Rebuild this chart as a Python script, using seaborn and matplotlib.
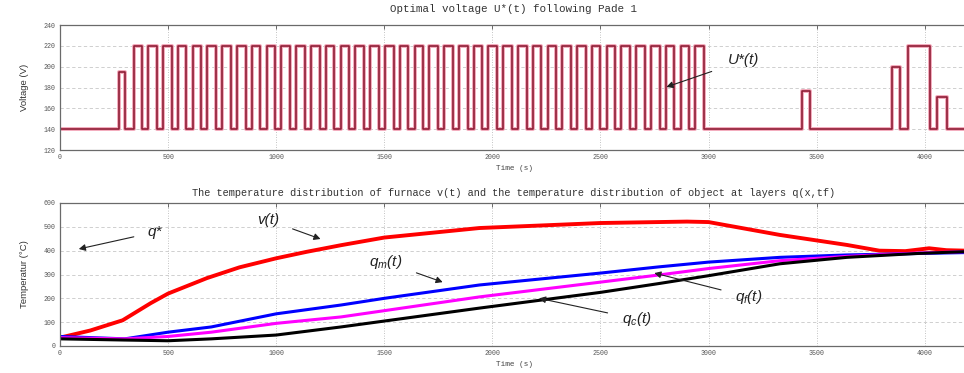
import numpy as np
import pandas as pd
import matplotlib
matplotlib.use("Agg")
import matplotlib.pyplot as plt
import seaborn as sns

# ---------------- data ----------------
# Top panel: optimal voltage U*(t)
base_level = 140
pulse_on = [271, 340, 408, 477, 545, 614, 682, 750, 819, 887, 956, 1024, 1092, 1161,
            1229, 1298, 1366, 1434, 1503, 1571, 1640, 1708, 1776, 1845, 1913, 1982,
            2050, 2118, 2187, 2255, 2324, 2392, 2460, 2529, 2597, 2666, 2734, 2802,
            2871, 2939, 3434, 3848, 3922, 4055]
pulse_off = [299, 380, 448, 517, 585, 654, 722, 790, 859, 927, 996, 1064, 1132, 1201,
             1269, 1338, 1406, 1474, 1543, 1611, 1680, 1748, 1816, 1885, 1953, 2022,
             2090, 2158, 2227, 2295, 2364, 2432, 2500, 2569, 2637, 2706, 2774, 2842,
             2911, 2979, 3467, 3885, 4023, 4101]
pulse_level = [195] + [220] * 39 + [177, 200, 220, 171]
t_end = 4200

# Bottom panel: temperatures
t_v = [0, 140, 290, 420, 500, 680, 830, 1000, 1140, 1300, 1500, 1940, 2500, 2900,
       3000, 3330, 3640, 3790, 3910, 4020, 4100, 4190]
v_t = [35, 65, 108, 180, 220, 285, 330, 368, 395, 423, 455, 495, 516, 522,
       520, 466, 424, 400, 398, 410, 402, 400]

t_m = [0, 150, 300, 500, 700, 1000, 1300, 1500, 1940, 2500, 2770, 3000, 3330, 3640, 3960, 4190]
qm_t = [40, 35, 30, 58, 80, 135, 172, 200, 256, 306, 332, 352, 372, 382, 388, 392]

t_f = [0, 300, 500, 700, 1000, 1300, 1940, 2500, 2770, 3000, 3330, 3640, 3960, 4190]
qf_t = [35, 30, 40, 58, 95, 122, 206, 268, 298, 325, 358, 376, 390, 396]

t_c = [0, 300, 500, 700, 1000, 1300, 1940, 2500, 2770, 3000, 3330, 3640, 3960, 4190]
qc_t = [30, 25, 22, 30, 46, 80, 159, 225, 262, 295, 345, 372, 388, 396]

x_ticks = [0, 500, 1000, 1500, 2000, 2500, 3000, 3500, 4000]
u_ticks = [120, 140, 160, 180, 200, 220, 240]
T_ticks = [0, 100, 200, 300, 400, 500, 600]

# ---------------- build step signal from edges ----------------
step_t = [0]
step_u = [base_level]
for on, off, lvl in zip(pulse_on, pulse_off, pulse_level):
    step_t += [on, off]
    step_u += [lvl, base_level]
step_t.append(t_end)
step_u.append(base_level)
df_u = pd.DataFrame({"t": step_t, "u": step_u})

# ---------------- style ----------------
sns.set_style("white")
plt.rcParams["font.family"] = ["Liberation Mono", "DejaVu Sans"]
plt.rcParams["mathtext.fontset"] = "custom"
plt.rcParams["mathtext.it"] = "Liberation Sans:italic"
plt.rcParams["mathtext.rm"] = "Liberation Sans:italic"

W, H = 964, 373
fig = plt.figure(figsize=(W / 100, H / 100), dpi=100)

x0 = 60
xr = 968.0
def ax_rect(top_px, bot_px):
    return [x0 / W, 1 - bot_px / H, (xr - x0) / W, (bot_px - top_px) / H]

ax1 = fig.add_axes(ax_rect(25, 150))
ax2 = fig.add_axes(ax_rect(203, 346))

def style_axes(ax):
    for s in ax.spines.values():
        s.set_color("#6a6a6a")
        s.set_linewidth(0.9)
    ax.tick_params(axis="both", direction="in", length=3, width=0.6,
                   labelsize=4.8, colors="#555555", top=True, right=False, pad=3)
    ax.xaxis.grid(True, linestyle=(0, (1, 2)), color="#b0b0b0", linewidth=0.6)
    ax.yaxis.grid(True, linestyle=(0, (4, 3)), color="#c8c8c8", linewidth=0.6)
    ax.set_axisbelow(True)

# ---------------- top panel ----------------
sns.lineplot(data=df_u, x="t", y="u", ax=ax1, estimator=None, sort=False,
             drawstyle="steps-post", color="#f3a9bb", linewidth=2.8)
sns.lineplot(data=df_u, x="t", y="u", ax=ax1, estimator=None, sort=False,
             drawstyle="steps-post", color="#8f1d35", linewidth=1.2)
ax1.set_xlim(0, t_end)
ax1.set_ylim(120, 240)
ax1.set_xticks(x_ticks)
ax1.set_yticks(u_ticks)
style_axes(ax1)
ax1.set_title("Optimal voltage U*(t) following Pade 1", fontsize=7.8, pad=9,
              color="#333333")
ax1.set_xlabel("Time (s)", fontsize=5.5, labelpad=3, color="#444444")
ax1.set_ylabel("Voltage (V)", fontsize=6.8, labelpad=11, color="#333333",
               family=["Liberation Sans", "DejaVu Sans"])
ax1.annotate("U*(t)", xy=(2805, 180.5), xytext=(3163, 206), fontsize=11,
             style="italic", family=["Liberation Sans", "DejaVu Sans"],
             ha="center", va="center", color="#222222",
             arrowprops=dict(arrowstyle="-|>,head_length=0.35,head_width=0.18",
                             color="#222222", lw=0.8, shrinkA=10, shrinkB=0))

# ---------------- bottom panel ----------------
series = [
    (t_v, v_t, "#ff0000", 2.8),
    (t_m, qm_t, "#0000ff", 2.2),
    (t_f, qf_t, "#ff00ff", 2.2),
    (t_c, qc_t, "#000000", 2.2),
]
for tt, yy, col, lw in series:
    sns.lineplot(x=tt, y=yy, ax=ax2, estimator=None, sort=False, color=col, linewidth=lw)
ax2.set_xlim(0, t_end)
ax2.set_ylim(0, 600)
ax2.set_xticks(x_ticks)
ax2.set_yticks(T_ticks)
style_axes(ax2)
ax2.set_title("The temperature distribution of furnace v(t) and the temperature "
              "distribution of object at layers q(x,tf)", fontsize=7.4, pad=5,
              color="#333333")
ax2.set_xlabel("Time (s)", fontsize=5.5, labelpad=3, color="#444444")
ax2.set_ylabel("Temperatur (°C)", fontsize=6.8, labelpad=11, color="#333333",
               family=["Liberation Sans", "DejaVu Sans"])

arrow = dict(arrowstyle="-|>,head_length=0.35,head_width=0.18", color="#222222",
             lw=0.8, shrinkA=8, shrinkB=0)
ann_kw = dict(fontsize=11, style="italic", ha="center", va="center",
              color="#222222", family=["Liberation Sans", "DejaVu Sans"])
ax2.annotate("q*", xy=(87, 407), xytext=(440, 478), arrowprops=arrow, **ann_kw)
ax2.annotate("v(t)", xy=(1205, 449), xytext=(961, 529), arrowprops=arrow, **ann_kw)
ax2.annotate("$q_m(t)$", xy=(1770, 268), xytext=(1508, 352), arrowprops=arrow, **ann_kw)
ax2.annotate("$q_f(t)$", xy=(2749, 306), xytext=(3186, 206), arrowprops=arrow, **ann_kw)
ax2.annotate("$q_c(t)$", xy=(2216, 200), xytext=(2667, 113), arrowprops=arrow, **ann_kw)

fig.savefig("out.png", dpi=100)
